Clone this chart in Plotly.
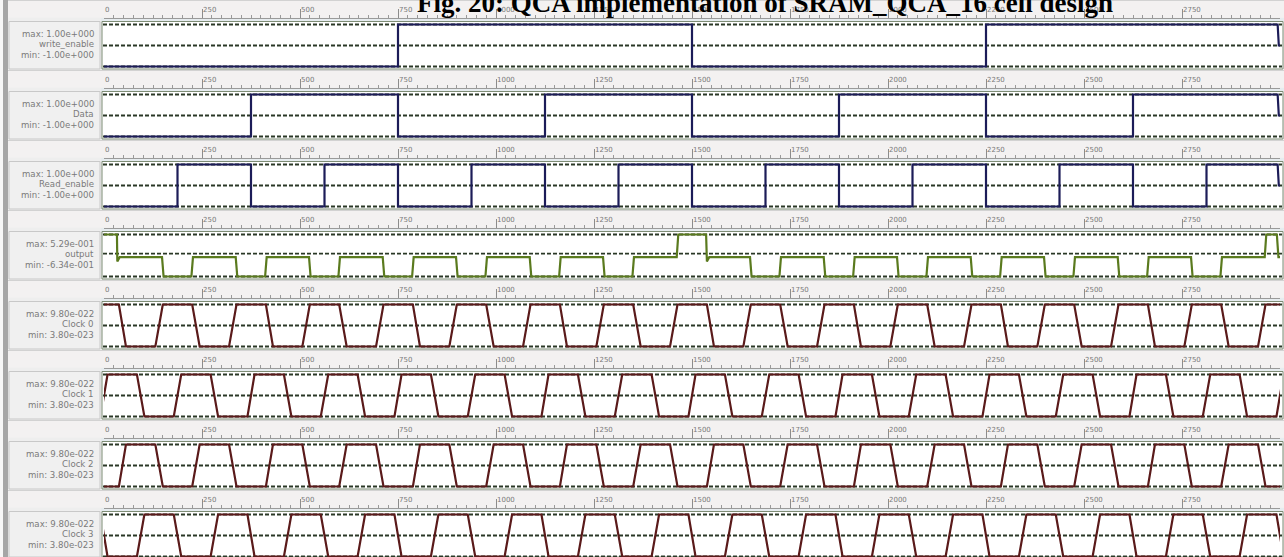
import plotly.graph_objects as go

W, H = 1284, 557
X_END = 3000

TITLE = "Fig. 20: QCA implementation of SRAM_QCA_16 cell design"

SIGNAL_NAMES = ["write_enable", "Data", "Read_enable", "output",
                "Clock 0", "Clock 1", "Clock 2", "Clock 3"]
MAX_LABELS = ["max: 1.00e+000", "max: 1.00e+000", "max: 1.00e+000", "max: 5.29e-001",
              "max: 9.80e-022", "max: 9.80e-022", "max: 9.80e-022", "max: 9.80e-022"]
MIN_LABELS = ["min: -1.00e+000", "min: -1.00e+000", "min: -1.00e+000", "min: -6.34e-001",
              "min: 3.80e-023", "min: 3.80e-023", "min: 3.80e-023", "min: 3.80e-023"]
SIG_MAX = [1.0, 1.0, 1.0, 0.529, 9.80e-22, 9.80e-22, 9.80e-22, 9.80e-22]
SIG_MIN = [-1.0, -1.0, -1.0, -0.634, 3.80e-23, 3.80e-23, 3.80e-23, 3.80e-23]

RULER_TICKS = [0, 250, 500, 750, 1000, 1250, 1500, 1750, 2000, 2250, 2500, 2750]
RULER_LABELS = ["0", "250", "500", "750", "1000", "1250", "1500", "1750",
                "2000", "2250", "2500", "2750"]

# digital inputs: segment boundaries and levels
WRITE_ENABLE_T = [0, 750, 1500, 2250, 3000]
WRITE_ENABLE_V = [-1, 1, -1, 1]
DATA_T = [0, 375, 750, 1125, 1500, 1875, 2250, 2625, 3000]
DATA_V = [-1, 1, -1, 1, -1, 1, -1, 1]
READ_ENABLE_T = [0, 187.5, 375, 562.5, 750, 937.5, 1125, 1312.5, 1500,
                 1687.5, 1875, 2062.5, 2250, 2437.5, 2625, 2812.5, 3000]
READ_ENABLE_V = [-1, 1, -1, 1, -1, 1, -1, 1, -1, 1, -1, 1, -1, 1, -1, 1]
FINAL_SAMPLE_T = 2994
FINAL_SAMPLE_V = 0.0

# output cell polarisation
OUTPUT_T = [0, 33, 34, 40, 148, 152, 223, 227, 336, 340, 411, 415,
            523, 527, 598, 602, 711, 715, 786, 790, 898, 902, 973, 977,
            1086, 1090, 1161, 1165, 1273, 1277, 1348, 1352,
            1461, 1465, 1536, 1538, 1544,
            1648, 1652, 1723, 1727, 1836, 1840, 1911, 1915,
            2023, 2027, 2098, 2102, 2211, 2215, 2286, 2290,
            2398, 2402, 2473, 2477, 2586, 2590, 2661, 2665,
            2773, 2777, 2848, 2852, 2961, 2965, 2992, 2996, 3000]
OUTPUT_V = [0.529, 0.529, -0.22, -0.10, -0.10, -0.634, -0.634, -0.10, -0.10, -0.634, -0.634, -0.10,
            -0.10, -0.634, -0.634, -0.10, -0.10, -0.634, -0.634, -0.10, -0.10, -0.634, -0.634, -0.10,
            -0.10, -0.634, -0.634, -0.10, -0.10, -0.634, -0.634, -0.10,
            -0.10, 0.529, 0.529, -0.22, -0.10,
            -0.10, -0.634, -0.634, -0.10, -0.10, -0.634, -0.634, -0.10,
            -0.10, -0.634, -0.634, -0.10, -0.10, -0.634, -0.634, -0.10,
            -0.10, -0.634, -0.634, -0.10, -0.10, -0.634, -0.634, -0.10,
            -0.10, -0.634, -0.634, -0.10, -0.10, 0.529, 0.529, -0.10, -0.10]

# clock edges (start, end) pairs; clocks 0/2 share edge times, clocks 1/3 share edge times
CLOCK_EDGES_A = [38, 56, 131, 150, 225, 244, 319, 338, 413, 431, 506, 525,
                 600, 619, 694, 713, 788, 806, 881, 900, 975, 994, 1069, 1088,
                 1163, 1181, 1256, 1275, 1350, 1369, 1444, 1463, 1538, 1556, 1631, 1650,
                 1725, 1744, 1819, 1838, 1913, 1931, 2006, 2025, 2100, 2119, 2194, 2213,
                 2288, 2306, 2381, 2400, 2475, 2494, 2569, 2588, 2663, 2681, 2756, 2775,
                 2850, 2869, 2944, 2963]
CLOCK_EDGES_B = [-9, 9, 84, 103, 178, 197, 272, 291, 366, 384, 459, 478, 553, 572,
                 647, 666, 741, 759, 834, 853, 928, 947, 1022, 1041, 1116, 1134,
                 1209, 1228, 1303, 1322, 1397, 1416, 1491, 1509, 1584, 1603, 1678, 1697,
                 1772, 1791, 1866, 1884, 1959, 1978, 2053, 2072, 2147, 2166, 2241, 2259,
                 2334, 2353, 2428, 2447, 2522, 2541, 2616, 2634, 2709, 2728, 2803, 2822,
                 2897, 2916, 2991, 3009]
CLOCK_START_HIGH = [True, False, False, True]

NAVY = "#1c1c58"
GREEN = "#5a7a1e"
BROWN = "#5a1a1a"
DASH_COL = "#2a3826"


def xp(px):
    return px / W


def yp(px):
    return min(1.0, max(0.0, 1 - px / H))


def step_points(t, v):
    xs, ys = [], []
    for i, val in enumerate(v):
        xs += [t[i], t[i + 1]]
        ys += [val, val]
    # final sample drops to zero at the very end
    xs[-1] = FINAL_SAMPLE_T
    xs += [FINAL_SAMPLE_T + 3, X_END]
    ys += [FINAL_SAMPLE_V, FINAL_SAMPLE_V]
    return xs, ys


def clock_points(edges, start_high, hi, lo):
    lv = hi if start_high else lo
    xs, ys = [], []
    if edges[0] > 0:
        xs.append(0)
        ys.append(lv)
    for i in range(0, len(edges), 2):
        other = lo if lv == hi else hi
        xs += [edges[i], edges[i + 1]]
        ys += [lv, other]
        lv = other
    if xs[-1] < X_END:
        xs.append(X_END)
        ys.append(lv)
    return xs, ys


fig = go.Figure()
shapes = []
annotations = []
layout_axes = {}

X0_PX, X1_PX = 104, 1280

series = []
series.append(step_points(WRITE_ENABLE_T, WRITE_ENABLE_V) + (NAVY,))
series.append(step_points(DATA_T, DATA_V) + (NAVY,))
series.append(step_points(READ_ENABLE_T, READ_ENABLE_V) + (NAVY,))
series.append((OUTPUT_T, OUTPUT_V, GREEN))
for c in range(4):
    edges = CLOCK_EDGES_A if c % 2 == 0 else CLOCK_EDGES_B
    xs, ys = clock_points(edges, CLOCK_START_HIGH[c], SIG_MAX[4 + c], SIG_MIN[4 + c])
    series.append((xs, ys, BROWN))

# left strip
shapes.append(dict(type="rect", xref="paper", yref="paper", x0=0, x1=xp(3), y0=0, y1=1,
                   fillcolor="#f7f7f7", line=dict(width=0), layer="below"))
shapes.append(dict(type="rect", xref="paper", yref="paper", x0=xp(3), x1=xp(8), y0=0, y1=1,
                   fillcolor="#a6a6a6", line=dict(width=0), layer="below"))

for k in range(8):
    base = 70 * k
    ruler_line = 17.5 + base
    max_px = 24.5 + base
    min_px = 66.5 + base
    mid_px = (max_px + min_px) / 2
    vmax, vmin = SIG_MAX[k], SIG_MIN[k]
    s = (vmax - vmin) / (min_px - max_px)
    top_px = max_px - 4
    bot_px = min(min_px + 4, H)
    yname = "yaxis" if k == 0 else f"yaxis{k + 1}"
    layout_axes[yname] = dict(domain=[yp(bot_px), yp(top_px)],
                              range=[vmin - (bot_px - min_px) * s, vmax + (max_px - top_px) * s],
                              visible=False, anchor="x", fixedrange=True)
    yref = "y" if k == 0 else f"y{k + 1}"

    # ruler band
    shapes.append(dict(type="rect", xref="paper", yref="paper", x0=xp(8), x1=xp(1284),
                       y0=yp(ruler_line), y1=yp(base), fillcolor="#f3f1f1",
                       line=dict(width=0), layer="below"))
    shapes.append(dict(type="line", xref="paper", yref="paper", x0=xp(8), x1=xp(1284),
                       y0=yp(base + 0.5), y1=yp(base + 0.5),
                       line=dict(color="#d2d2d2", width=1), layer="below"))
    # band between ruler and waveform
    shapes.append(dict(type="rect", xref="paper", yref="paper", x0=xp(101), x1=xp(1284),
                       y0=yp(max_px - 3), y1=yp(ruler_line + 0.5), fillcolor="#e6ecef",
                       line=dict(width=0), layer="below"))
    # label box
    shapes.append(dict(type="rect", xref="paper", yref="paper", x0=xp(9), x1=xp(100),
                       y0=yp(min_px + 2.5), y1=yp(max_px - 3), fillcolor="#f0f0f0",
                       line=dict(color="#c8c8c8", width=1), layer="below"))
    # waveform box
    shapes.append(dict(type="rect", xref="paper", yref="paper", x0=xp(102), x1=xp(1283),
                       y0=yp(min_px + 2.5), y1=yp(max_px - 3), fillcolor="white",
                       line=dict(color="#7d8c74", width=1), layer="below"))
    # dashed reference lines at max, mid(0), min
    mid_val = 0.0 if k < 4 else (vmax + vmin) / 2
    for val in (vmax, mid_val, vmin):
        shapes.append(dict(type="line", xref="paper", yref=yref, x0=xp(103), x1=xp(1282),
                           y0=val, y1=val, layer="below",
                           line=dict(color=DASH_COL, width=1.8, dash="4px,2px")))

    xs, ys, col = series[k]
    fig.add_trace(go.Scatter(x=xs, y=ys, mode="lines", xaxis="x", yaxis=yref,
                             line=dict(color=col, width=2.2), showlegend=False,
                             hoverinfo="skip"))

    # ruler axis
    xname = f"xaxis{k + 2}"
    layout_axes[xname] = dict(
        overlaying="x", anchor="free", position=yp(ruler_line),
        domain=[xp(X0_PX), xp(X1_PX)], range=[0, X_END], side="bottom",
        tickmode="array", tickvals=RULER_TICKS, ticktext=RULER_LABELS,
        ticks="inside", ticklen=9, tickwidth=1, tickcolor="#8c8c8c",
        ticklabelposition="inside right",
        tickfont=dict(family="DejaVu Sans", size=7, color="#7a7a7a"),
        minor=dict(ticks="inside", ticklen=3, tickcolor="#9a9a9a", tickmode="linear",
                   tick0=0, dtick=25, showgrid=False),
        showline=True, linecolor="#9a9a9a", linewidth=1,
        showgrid=False, zeroline=False, fixedrange=True)
    fig.add_trace(go.Scatter(x=[None], y=[None], xaxis=f"x{k + 2}", yaxis=yref,
                             showlegend=False, hoverinfo="skip"))

    # left labels
    for txt, ypx in ((MAX_LABELS[k], mid_px - 12), (SIGNAL_NAMES[k], mid_px - 1.5),
                     (MIN_LABELS[k], mid_px + 9.5)):
        annotations.append(dict(text=txt, xref="paper", yref="paper", x=xp(96), y=yp(ypx),
                                xanchor="right", yanchor="middle", showarrow=False,
                                font=dict(family="DejaVu Sans", size=8.6, color="#7a7a7a")))

annotations.append(dict(text="<b>" + TITLE + "</b>", xref="paper", yref="paper",
                        x=xp(765), y=1 - 3 / H, xanchor="center", yanchor="middle",
                        showarrow=False,
                        font=dict(family="Liberation Serif", size=27, color="black")))

fig.update_layout(
    width=W, height=H, margin=dict(l=0, r=0, t=0, b=0),
    paper_bgcolor="#eeeeee", plot_bgcolor="rgba(0,0,0,0)",
    xaxis=dict(domain=[xp(X0_PX), xp(X1_PX)], range=[0, X_END], visible=False,
               anchor="y8", fixedrange=True),
    shapes=shapes, annotations=annotations, showlegend=False,
    **layout_axes,
)

fig.write_html("out.html", config={"displayModeBar": False},
               post_script="document.body.style.margin='0px';document.body.style.padding='0px';")
